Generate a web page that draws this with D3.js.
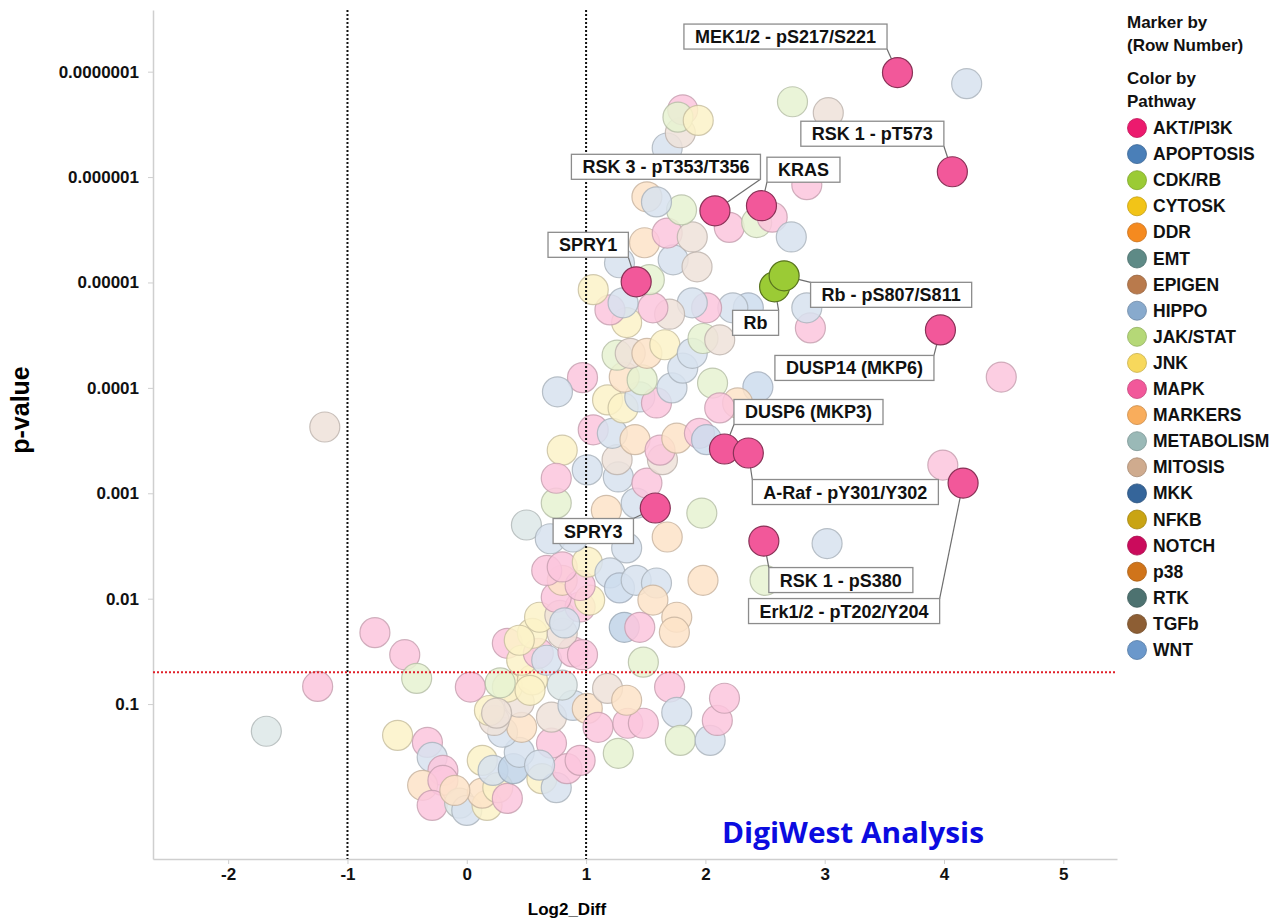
<!DOCTYPE html>
<html>
<head>
<meta charset="utf-8">
<script src="https://cdn.jsdelivr.net/npm/d3@7"></script>
<style>
  body { margin: 0; background: #fff; }
  text { font-family: "Liberation Sans", Arial, sans-serif; }
</style>
</head>
<body>
<div id="chart"></div>
<script>

const pathways = ["AKT/PI3K", "APOPTOSIS", "CDK/RB", "CYTOSK", "DDR", "EMT", "EPIGEN", "HIPPO",
    "JAK/STAT", "JNK", "MAPK", "MARKERS", "METABOLISM", "MITOSIS", "MKK", "NFKB", "NOTCH",
    "p38", "RTK", "TGFb", "WNT"];
const pathwayColors = ["#ec1a6e", "#4a7fb8", "#9bcb35", "#f2c417", "#f58a1f", "#5e8a86", "#b97a4c",
    "#88aacd", "#b5d877", "#f7d85c", "#f2589a", "#f9ad5c", "#9ab9b7", "#cfab8e", "#35659a",
    "#c9a413", "#cb0b5c", "#d0741a", "#4d7270", "#8d5e34", "#6b98cb"];

// faded (not labelled) markers
const bgLog2 = [-1.19, -1.68, -1.25, -0.77, -0.52, -0.42, -0.58, -0.33, -0.29, -0.20,
    -0.37, -0.20, -0.29, -0.06, 0.00, 0.17, 0.13, 0.26, 0.34, 0.13,
    0.22, 0.39, 0.44, 0.63, 0.75, 0.84, 0.95, 0.71, 0.30, 0.46,
    0.23, 0.19, 0.44, 0.71, 0.89, 1.01, 1.10, 1.35, 1.48, 1.27,
    1.18, 1.34, 1.70, 1.76, 1.79, 2.04, 2.10, 2.16, 0.03, 0.34,
    0.80, 0.28, 0.55, 0.34, 0.46, 0.60, 0.67, 0.89, 0.55, 0.80,
    0.61, 0.78, 0.95, 1.03, 0.75, 0.80, 0.95, 0.67, 0.80, 1.01,
    1.20, 1.28, 1.42, 1.59, 1.56, 1.32, 1.45, 1.76, 1.74, 1.98,
    1.48, 0.50, 0.70, 0.89, 1.34, 1.68, 1.17, 0.75, 1.42, 1.97,
    2.50, 3.02, 0.80, 0.75, 1.01, 1.27, 1.26, 1.51, 1.64, 1.06,
    1.22, 1.41, 1.62, 1.76, 1.95, 2.01, 0.97, 0.76, 1.18, 1.31,
    1.45, 1.59, 1.72, 1.32, 1.47, 1.81, 2.06, 2.44, 2.27, 2.12,
    1.26, 1.37, 1.51, 1.66, 1.89, 1.98, 2.12, 2.88, 2.85, 2.36,
    2.23, 2.01, 1.89, 1.70, 1.56, 1.34, 1.20, 1.31, 1.06, 1.53,
    1.28, 1.73, 1.93, 1.49, 1.68, 1.89, 2.20, 2.43, 2.56, 2.72,
    1.80, 1.51, 1.59, 2.85, 1.68, 1.79, 1.81, 1.77, 1.94, 2.73,
    3.03, 4.19, 4.48, 3.99, 0.25, 0.61, 0.53, 0.97, 0.82, 0.44,
    -0.10];
const bgPval = [2.35e-4, 0.181, 0.068, 0.021, 0.034, 0.057, 0.198, 0.231, 0.32, 0.426,
    0.59, 0.53, 0.914, 0.87, 1.02, 0.914, 0.70, 0.62, 0.785, 0.342,
    0.426, 0.41, 0.287, 0.51, 0.62, 0.41, 0.342, 0.235, 0.185, 0.166,
    0.143, 0.115, 0.096, 0.133, 0.103, 0.11, 0.166, 0.152, 0.152, 0.293,
    0.071, 0.092, 0.069, 0.12, 0.221, 0.221, 0.143, 0.088, 0.069, 0.069,
    0.066, 0.063, 0.059, 0.0265, 0.0384, 0.033, 0.0384, 0.032, 0.0213, 0.0213,
    0.015, 0.0144, 0.012, 0.0103, 0.0097, 0.0067, 0.0075, 0.0054, 0.0050, 0.0045,
    0.0057, 0.0079, 0.0067, 0.0071, 0.0103, 0.0187, 0.0187, 0.015, 0.0208, 0.0067,
    0.040, 0.0020, 0.0027, 0.0026, 0.0033, 0.0026, 0.00145, 0.00124, 0.00124, 0.00154,
    0.0067, 0.0030, 3.9e-4, 7.2e-4, 6.0e-4, 7.0e-4, 4.8e-4, 8.0e-4, 4.8e-4, 2.5e-4,
    2.7e-4, 3.1e-4, 3.9e-4, 3.0e-4, 2.7e-4, 3.1e-4, 8.0e-5, 1.09e-4, 1.3e-4, 1.55e-4,
    1.22e-4, 1.39e-4, 1.0e-4, 7.9e-5, 8.4e-5, 6.5e-5, 9.0e-5, 9.8e-5, 1.39e-4, 1.55e-4,
    4.9e-5, 4.7e-5, 4.7e-5, 3.9e-5, 4.7e-5, 3.4e-5, 3.5e-5, 2.7e-5, 1.74e-5, 1.74e-5,
    1.74e-5, 1.74e-5, 1.56e-5, 2.0e-5, 1.74e-5, 2.4e-5, 1.82e-5, 1.56e-5, 1.17e-5, 9.4e-6,
    6.5e-6, 6.1e-6, 7.1e-6, 4.2e-6, 3.4e-6, 3.7e-6, 3.0e-6, 2.7e-6, 2.4e-6, 3.7e-6,
    2.05e-6, 1.54e-6, 1.72e-6, 1.18e-6, 5.3e-7, 3.8e-7, 2.3e-7, 2.7e-7, 2.9e-7, 1.93e-7,
    2.45e-7, 1.3e-7, 7.9e-5, 5.4e-4, 0.122, 0.38, 0.074, 0.034, 0.017, 0.0248,
    0.66];
const bgPathway = ["MITOSIS", "METABOLISM", "MAPK", "MAPK", "MAPK", "JAK/STAT", "JNK", "MAPK", "HIPPO", "MAPK",
    "MARKERS", "MAPK", "MAPK", "METABOLISM", "HIPPO", "JNK", "MARKERS", "JNK", "MAPK", "JNK",
    "HIPPO", "APOPTOSIS", "HIPPO", "JNK", "HIPPO", "MAPK", "MAPK", "MAPK", "HIPPO", "MARKERS",
    "MITOSIS", "JNK", "MITOSIS", "MITOSIS", "HIPPO", "MARKERS", "MAPK", "MAPK", "MAPK", "JAK/STAT",
    "MITOSIS", "MARKERS", "MAPK", "HIPPO", "JAK/STAT", "HIPPO", "MAPK", "MAPK", "MAPK", "JNK",
    "METABOLISM", "JAK/STAT", "JNK", "MAPK", "JNK", "MAPK", "HIPPO", "MAPK", "JNK", "MITOSIS",
    "JNK", "MITOSIS", "MAPK", "JNK", "MAPK", "MARKERS", "MAPK", "MAPK", "MAPK", "JNK",
    "HIPPO", "WNT", "HIPPO", "HIPPO", "MARKERS", "APOPTOSIS", "MAPK", "MARKERS", "MARKERS", "MARKERS",
    "JAK/STAT", "METABOLISM", "HIPPO", "HIPPO", "HIPPO", "MARKERS", "MARKERS", "JAK/STAT", "HIPPO", "JAK/STAT",
    "JAK/STAT", "HIPPO", "JNK", "MAPK", "HIPPO", "HIPPO", "MITOSIS", "MAPK", "MITOSIS", "MAPK",
    "HIPPO", "MARKERS", "MAPK", "MARKERS", "MAPK", "WNT", "MAPK", "HIPPO", "JNK", "JNK",
    "HIPPO", "MAPK", "HIPPO", "MARKERS", "JAK/STAT", "HIPPO", "JAK/STAT", "WNT", "MARKERS", "MAPK",
    "JAK/STAT", "MITOSIS", "MARKERS", "JNK", "HIPPO", "JAK/STAT", "MITOSIS", "MAPK", "HIPPO", "WNT",
    "HIPPO", "MAPK", "HIPPO", "MITOSIS", "MAPK", "JNK", "MAPK", "HIPPO", "JNK", "JAK/STAT",
    "HIPPO", "HIPPO", "MITOSIS", "MARKERS", "MAPK", "MITOSIS", "MAPK", "JAK/STAT", "MAPK", "HIPPO",
    "JAK/STAT", "MARKERS", "HIPPO", "MAPK", "HIPPO", "MITOSIS", "MAPK", "JAK/STAT", "JNK", "JAK/STAT",
    "MITOSIS", "HIPPO", "MAPK", "MAPK", "MITOSIS", "HIPPO", "JNK", "MAPK", "HIPPO", "JNK",
    "MARKERS"];

// labelled markers
const hiLabels = ["MEK1/2 - pS217/S221", "RSK 1 - pT573", "RSK 3 - pT353/T356", "KRAS", "SPRY1",
    "Rb", "Rb - pS807/S811", "DUSP14 (MKP6)", "DUSP6 (MKP3)", "A-Raf - pY301/Y302", "SPRY3",
    "RSK 1 - pS380", "Erk1/2 - pT202/Y204"];
const hiLog2 = [3.61, 4.07, 2.08, 2.47, 1.42, 2.58, 2.66, 3.97, 2.16, 2.36, 1.58, 2.49, 4.16];
const hiPval = [1.02e-7, 8.9e-7, 2.09e-6, 1.87e-6, 9.86e-6, 1.1e-5, 8.65e-6, 2.82e-5, 3.8e-4,
    4.15e-4, 1.38e-3, 2.84e-3, 8.0e-4];
const hiPathway = ["MAPK", "MAPK", "MAPK", "MAPK", "MAPK", "CDK/RB", "CDK/RB", "MAPK", "MAPK",
    "MAPK", "MAPK", "MAPK", "MAPK"];

const yTicks = [1e-7, 1e-6, 1e-5, 1e-4, 1e-3, 1e-2, 1e-1];
const xTicks = [-2, -1, 0, 1, 2, 3, 4, 5];
const log2Cutoffs = [-1, 1];
const pCutoff = 0.05;

// where each label box sits, relative to its marker (px)
const labelOffsets = [[-112, -36], [-80, -38], [-49, -44], [42, -36], [-48, -37], [-19, 36],
    [107, 19], [-86, 38], [84, -37], [97, 39], [-62, 23], [77, 39], [-119, 128]];

const width = 1282, height = 920;
const radius = 15;
const color = d3.scaleOrdinal().domain(pathways).range(pathwayColors);
// washed-out version of a pathway colour for the unlabelled markers
const pale = c => d3.interpolateRgb("#ffffff", c)(0.34);

const svg = d3.select("#chart").append("svg")
    .attr("width", width)
    .attr("height", height);

const x = d3.scaleLinear().domain([-2.63, 5.45]).range([153, 1117]);
const y = d3.scaleLog().domain([2.95, 2.6e-8]).range([859, 10]);

// axes
const yAxis = svg.append("g")
    .attr("transform", "translate(153,0)")
    .call(d3.axisLeft(y).tickValues(yTicks)
        .tickFormat(d => d.toFixed(Math.round(-Math.log10(d))))
        .tickSize(5).tickSizeOuter(0).tickPadding(9));

const xAxis = svg.append("g")
    .attr("transform", "translate(0,859)")
    .call(d3.axisBottom(x).tickValues(xTicks).tickFormat(d => String(d))
        .tickSize(5).tickSizeOuter(0).tickPadding(4));

[yAxis, xAxis].forEach(a => {
    a.select(".domain").attr("stroke", "#cfcfcf").attr("stroke-width", 1.5);
    a.selectAll(".tick line").attr("stroke", "#cfcfcf");
    a.selectAll(".tick text")
        .attr("fill", "#111")
        .style("font-size", "17px")
        .style("font-weight", "bold");
});

svg.append("text")
    .attr("transform", "translate(29,410) rotate(-90)")
    .attr("text-anchor", "middle")
    .style("font-size", "25px")
    .style("font-weight", "bold")
    .text("p-value");

svg.append("text")
    .attr("x", 567).attr("y", 915)
    .attr("text-anchor", "middle")
    .style("font-size", "17px")
    .style("font-weight", "bold")
    .text("Log2_Diff");

// faded markers
const bg = bgLog2.map((d, i) => ({ x: d, p: bgPval[i], path: bgPathway[i] }));

svg.append("g").selectAll("circle")
    .data(bg)
    .join("circle")
    .attr("cx", d => x(d.x))
    .attr("cy", d => y(d.p))
    .attr("r", radius)
    .attr("fill", d => pale(color(d.path)))
    .attr("fill-opacity", 0.85)
    .attr("stroke", d => d3.interpolateRgb("#b4b4b4", color(d.path))(0.25))
    .attr("stroke-opacity", 0.8)
    .attr("stroke-width", 1.2);

// threshold lines
svg.append("g").selectAll("line")
    .data(log2Cutoffs)
    .join("line")
    .attr("x1", d => x(d)).attr("x2", d => x(d))
    .attr("y1", 10).attr("y2", 859)
    .attr("stroke", "#111")
    .attr("stroke-width", 2)
    .attr("stroke-dasharray", "2,2");

svg.append("line")
    .attr("x1", 153).attr("x2", 1117)
    .attr("y1", y(pCutoff)).attr("y2", y(pCutoff))
    .attr("stroke", "#e0202a")
    .attr("stroke-width", 2)
    .attr("stroke-dasharray", "2,2");

// labelled markers
const hi = hiLabels.map((d, i) => ({
    label: d, x: hiLog2[i], p: hiPval[i], path: hiPathway[i],
    dx: labelOffsets[i][0], dy: labelOffsets[i][1]
}));

const leaders = svg.append("g");
const marks = svg.append("g");
const boxes = svg.append("g");

hi.forEach(d => {
    const cx = x(d.x), cy = y(d.p);
    const lg = boxes.append("g");
    const t = lg.append("text")
        .attr("x", cx + d.dx)
        .attr("y", cy + d.dy + 6.5)
        .attr("text-anchor", "middle")
        .style("font-size", "18px")
        .style("font-weight", "bold")
        .attr("fill", "#111")
        .text(d.label);
    const w = t.node().getComputedTextLength() + 22, h = 25;
    const bx = cx + d.dx - w / 2, by = cy + d.dy - h / 2;
    lg.insert("rect", "text")
        .attr("x", bx).attr("y", by)
        .attr("width", w).attr("height", h)
        .attr("fill", "#fff")
        .attr("stroke", "#8c8c8c")
        .attr("stroke-width", 1.3);

    // leader to the nearest corner of the box
    const corners = [[bx, by], [bx + w, by], [bx, by + h], [bx + w, by + h]];
    const c = d3.least(corners, k => Math.hypot(k[0] - cx, k[1] - cy));
    leaders.append("line")
        .attr("x1", cx).attr("y1", cy)
        .attr("x2", c[0]).attr("y2", c[1])
        .attr("stroke", "#6e6e6e")
        .attr("stroke-width", 1.2);

    marks.append("circle")
        .attr("cx", cx).attr("cy", cy)
        .attr("r", radius)
        .attr("fill", color(d.path))
        .attr("stroke", d3.color(color(d.path)).darker(1.6))
        .attr("stroke-width", 1.2);
});

svg.append("text")
    .attr("x", 722).attr("y", 843)
    .attr("textLength", 262)
    .attr("lengthAdjust", "spacingAndGlyphs")
    .style("font-family", "'Open Sans', sans-serif")
    .style("font-size", "28px")
    .style("font-weight", "bold")
    .attr("fill", "#0b0be0")
    .text("DigiWest Analysis");

// legend
const legend = svg.append("g").attr("transform", "translate(1127,0)");

["Marker by", "(Row Number)", "Color by", "Pathway"].forEach((t, i) => {
    legend.append("text")
        .attr("x", 0)
        .attr("y", [28, 51, 84, 107][i])
        .style("font-size", "17px")
        .style("font-weight", "bold")
        .attr("fill", "#111")
        .text(t);
});

pathways.forEach((d, i) => {
    const row = legend.append("g")
        .attr("transform", "translate(0," + (128 + i * 26.1) + ")");
    row.append("circle")
        .attr("cx", 10).attr("cy", 0)
        .attr("r", 9.5)
        .attr("fill", color(d))
        .attr("stroke", d3.color(color(d)).darker(0.6))
        .attr("stroke-width", 0.8);
    row.append("text")
        .attr("x", 26).attr("y", 6)
        .style("font-size", "17.5px")
        .style("font-weight", "bold")
        .attr("fill", "#111")
        .text(d);
});

</script>
</body>
</html>
